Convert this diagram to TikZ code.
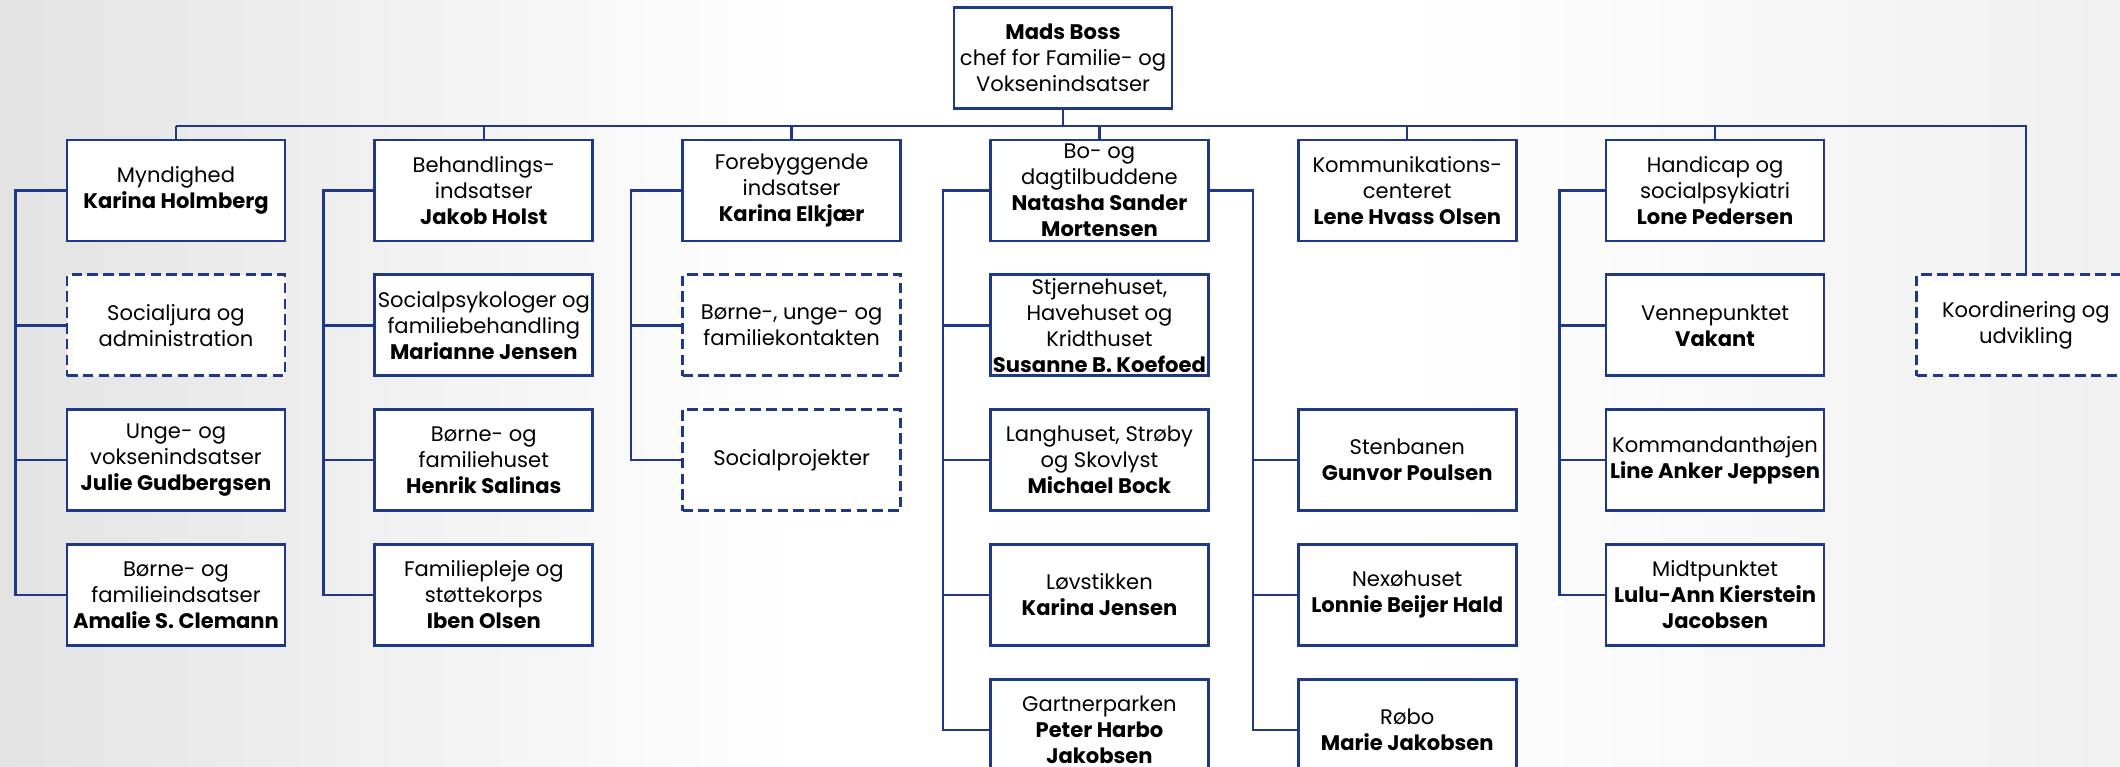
\documentclass[tikz,border=0pt]{standalone}
\usepackage{fontspec}
\setmainfont{Poppins}
\usepackage{tikz}
\usetikzlibrary{positioning, calc}

\definecolor{orgblue}{RGB}{31,56,135}

\begin{document}
\begin{tikzpicture}
		[
		font=\fontsize{12}{14.8}\selectfont,
		box/.style ={rectangle, draw=orgblue, fill=white, line width=1.6pt, minimum width=4.36cm, minimum height=2.02cm, align=center, inner sep=1pt},
		vacant/.style ={box, dash pattern=on 6pt off 3pt},
		link/.style ={draw=orgblue, line width=1.4pt}
		]
		% baggrund
		\useasboundingbox (0,0) rectangle (42.4,-15.34);
		\shade[left color=black!11, right color=white] (0,0) rectangle (16,-15.34);
		\shade[left color=white, right color=black!6] (28,0) rectangle (42.4,-15.34);

		\node[box] (boss) at (21.26,-1.16) {\textbf{Mads Boss}\\chef for Familie- og\\Voksenindsatser};

		% foerste raekke
		\node[box] (myn) at (3.52,-3.81) {Myndighed\\\textbf{Karina Holmberg}};
		\node[right=1.74cm of myn] (beh) [box] {Behandlings-\\indsatser\\\textbf{Jakob Holst}};
		\node[right=1.74cm of beh] (fore) [box] {Forebyggende\\indsatser\\\textbf{Karina Elkjær}};
		\node[right=1.74cm of fore] (bo) [box] {Bo- og\\dagtilbuddene\\\textbf{Natasha Sander}\\\textbf{Mortensen}};
		\node[right=1.74cm of bo] (kom) [box] {Kommunikations-\\centeret\\\textbf{Lene Hvass Olsen}};
		\node[right=1.74cm of kom] (han) [box] {Handicap og\\socialpsykiatri\\\textbf{Lone Pedersen}};

		% Myndighed
		\node[below=0.62cm of myn] (sj) [vacant] {Socialjura og\\administration};
		\node[below=0.62cm of sj] (unge) [box] {Unge- og\\voksenindsatser\\\textbf{Julie Gudbergsen}};
		\node[below=0.62cm of unge] (barn) [box] {Børne- og\\familieindsatser\\\textbf{Amalie S. Clemann}};

		% Behandlingsindsatser
		\node[below=0.62cm of beh] (sps) [box] {Socialpsykologer og\\familiebehandling\\\textbf{Marianne Jensen}};
		\node[below=0.62cm of sps] (bfh) [box] {Børne- og\\familiehuset\\\textbf{Henrik Salinas}};
		\node[below=0.62cm of bfh] (fpl) [box] {Familiepleje og\\støttekorps\\\textbf{Iben Olsen}};

		% Forebyggende indsatser
		\node[below=0.62cm of fore] (buf) [vacant] {Børne-, unge- og\\familiekontakten};
		\node[below=0.62cm of buf] (spr) [vacant] {Socialprojekter};

		% Bo- og dagtilbuddene
		\node[below=0.62cm of bo] (stj) [box] {Stjernehuset,\\Havehuset og\\Kridthuset\\\textbf{Susanne B. Koefoed}};
		\node[below=0.62cm of stj] (lang) [box] {Langhuset, Strøby\\og Skovlyst\\\textbf{Michael Bock}};
		\node[below=0.62cm of lang] (lov) [box] {Løvstikken\\\textbf{Karina Jensen}};
		\node[below=0.62cm of lov] (gart) [box] {Gartnerparken\\\textbf{Peter Harbo}\\\textbf{Jakobsen}};
		\node[box] (sten) at (kom |- lang) {Stenbanen\\\textbf{Gunvor Poulsen}};
		\node[box] (nexo) at (kom |- lov) {Nexøhuset\\\textbf{Lonnie Beijer Hald}};
		\node[box] (robo) at (kom |- gart) {Røbo\\\textbf{Marie Jakobsen}};

		% Handicap og socialpsykiatri
		\node[below=0.62cm of han] (ven) [box] {Vennepunktet\\\textbf{Vakant}};
		\node[below=0.62cm of ven] (kmd) [box] {Kommandanthøjen\\\textbf{Line Anker Jeppsen}};
		\node[below=0.62cm of kmd] (mid) [box] {Midtpunktet\\\textbf{Lulu-Ann Kierstein}\\\textbf{Jacobsen}};

		\node[right=1.8cm of ven] (koo) [vacant] {Koordinering og\\udvikling};

		% forbindelser
		\draw[link] (boss.south) -- ++(0,-0.32) coordinate (bus);
		\draw[link] (myn.north |- bus) -- (han.north |- bus);
		\foreach \n in {myn, beh, fore, bo, kom, han}
			\draw[link] (\n.north |- bus) -- (\n.north);
		\draw[link, line width=1.1pt] (han.north |- bus) -| (koo.north);

		\draw[link] (myn.west) -- ++(-1,0) coordinate (s1) |- (barn.west);
		\foreach \n in {sj, unge} \draw[link] (s1 |- \n.west) -- (\n.west);
		\draw[link] (beh.west) -- ++(-1,0) coordinate (s2) |- (fpl.west);
		\foreach \n in {sps, bfh} \draw[link] (s2 |- \n.west) -- (\n.west);
		\draw[link] (fore.west) -- ++(-1,0) coordinate (s3) |- (spr.west);
		\draw[link] (s3 |- buf.west) -- (buf.west);
		\draw[link] (bo.west) -- ++(-0.92,0) coordinate (s4) |- (gart.west);
		\foreach \n in {stj, lang, lov} \draw[link] (s4 |- \n.west) -- (\n.west);
		\draw[link] (bo.east) -- ++(0.86,0) coordinate (s5) |- (robo.west);
		\foreach \n in {sten, nexo} \draw[link] (s5 |- \n.west) -- (\n.west);
		\draw[link] (han.west) -- ++(-0.9,0) coordinate (s6) |- (mid.west);
		\foreach \n in {ven, kmd} \draw[link] (s6 |- \n.west) -- (\n.west);
	\end{tikzpicture}
\end{document}
